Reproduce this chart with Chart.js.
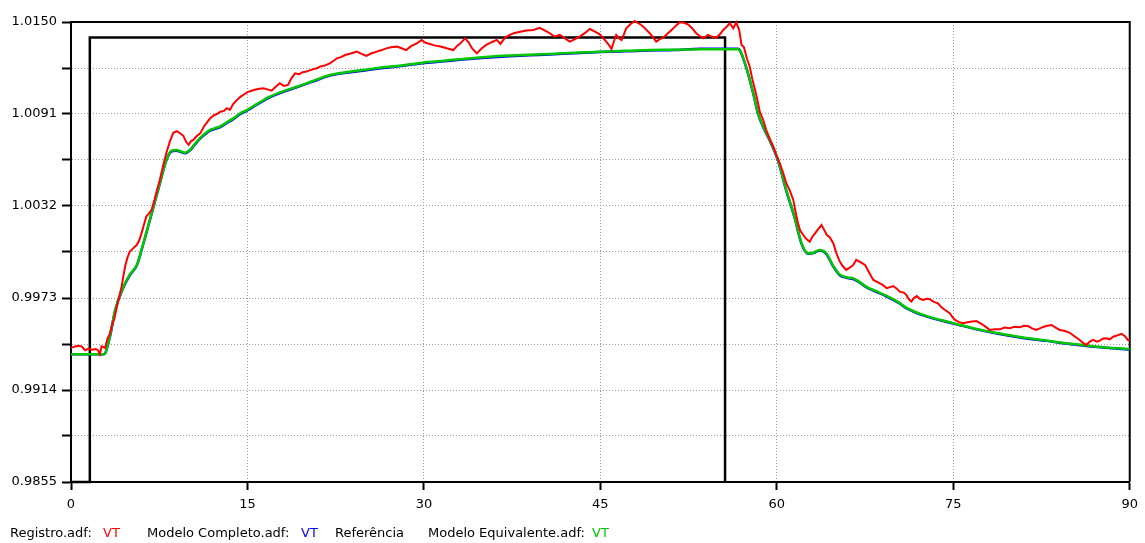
<!DOCTYPE html>
<html>
<head>
<meta charset="utf-8">
<script src="https://cdn.jsdelivr.net/npm/chart.js@4.4.1/dist/chart.umd.min.js"></script>
<style>
  html, body { margin: 0; padding: 0; background: #fff; }
  #wrap { position: relative; width: 1145px; height: 543px; }
  #legenda { position: absolute; left: 0; top: 525px; width: 1145px; height: 18px;
    font-family: "DejaVu Sans", sans-serif; font-size: 13px; line-height: 15px; color: #000; }
  #legenda span { position: absolute; top: 0; white-space: nowrap; }
</style>
</head>
<body>
<div id="wrap">
  <canvas id="grafico" width="1145" height="543"></canvas>
  <div id="legenda">
    <span style="left:10px">Registro.adf:</span>
    <span style="left:103px;color:#ff0000">VT</span>
    <span style="left:147px">Modelo Completo.adf:</span>
    <span style="left:301px;color:#0000ff">VT</span>
    <span style="left:335px">Referência</span>
    <span style="left:428px">Modelo Equivalente.adf:</span>
    <span style="left:592px;color:#00c800">VT</span>
  </div>
</div>
<script>
// eixos
const xMin = 0, xMax = 90, xStep = 15;
const yTicks = [0.9855, 0.98845, 0.9914, 0.99435, 0.9973, 1.00025, 1.0032, 1.00615, 1.0091, 1.01205, 1.0150];
const yTickLabels = ['0.9855', '', '0.9914', '', '0.9973', '', '1.0032', '', '1.0091', '', '1.0150'];

// Referência (degrau)
const refT = [0, 1.6, 1.6, 55.6, 55.6];
const refV = [0.9855, 0.9855, 1.0140, 1.0140, 0.9855];

// Registro.adf: VT (medição)
const regT = [0, 0.3, 0.6, 0.9, 1.2, 1.5, 1.8, 2.1, 2.3, 2.45, 2.6, 2.9, 3.1, 3.3, 3.5, 3.7, 3.9, 4.1, 4.3, 4.45,
  4.6, 4.8, 5.0, 5.3, 5.6, 5.8, 6.0, 6.2, 6.4, 6.6, 6.85, 7.1, 7.3, 7.55, 7.8, 8.1, 8.4, 8.7, 9.0, 9.3,
  9.55, 9.8, 10.0, 10.2, 10.4, 10.7, 11.0, 11.3, 11.55, 11.8, 12.1, 12.4, 12.7, 13.0, 13.25, 13.5, 13.8, 14.1, 14.4, 14.7,
  15.0, 15.3, 15.6, 15.9, 16.35, 16.7, 17.05, 17.4, 17.75, 18.1, 18.45, 18.75, 19.05, 19.4, 19.7, 20.0, 20.3, 20.6, 20.9, 21.2,
  21.6, 22.0, 22.3, 22.6, 22.95, 23.3, 23.7, 24.0, 24.3, 24.7, 25.1, 25.5, 26.0, 26.4, 26.8, 27.2, 27.7, 28.1, 28.5, 28.9,
  29.4, 29.8, 30.1, 30.5, 30.9, 31.3, 31.65, 32.0, 32.5, 32.8, 33.1, 33.5, 33.8, 34.1, 34.5, 34.9, 35.3, 35.8, 36.2, 36.5,
  36.9, 37.3, 37.7, 38.2, 38.7, 39.3, 39.85, 40.3, 40.7, 41.1, 41.55, 42.0, 42.4, 42.85, 43.25, 43.7, 44.1, 44.5, 44.95, 45.2,
  45.5, 45.75, 45.95, 46.15, 46.35, 46.6, 46.8, 47.0, 47.2, 47.55, 47.9, 48.3, 48.65, 48.9, 49.2, 49.5, 49.75, 50.05, 50.35, 50.7,
  51.05, 51.4, 51.75, 52.1, 52.45, 52.8, 53.15, 53.45, 53.75, 54.15, 54.5, 54.85, 55.15, 55.45, 55.75, 56.0, 56.3, 56.55, 56.8, 57.0,
  57.2, 57.45, 57.7, 57.9, 58.15, 58.35, 58.55, 58.85, 59.1, 59.4, 59.7, 59.95, 60.25, 60.55, 60.8, 61.1, 61.4, 61.6, 61.8, 62.0,
  62.25, 62.5, 62.8, 63.0, 63.25, 63.5, 63.8, 64.0, 64.25, 64.5, 64.8, 65.05, 65.35, 65.6, 65.9, 66.2, 66.5, 66.75, 67.1, 67.5,
  67.8, 68.2, 68.6, 69.0, 69.35, 69.9, 70.2, 70.45, 70.8, 71.0, 71.25, 71.45, 71.65, 71.9, 72.15, 72.45, 72.75, 73.0, 73.35, 73.7,
  74.0, 74.3, 74.7, 74.95, 75.15, 75.5, 75.85, 76.2, 76.6, 76.95, 77.25, 77.55, 77.85, 78.1, 78.5, 78.95, 79.35, 79.8, 80.2, 80.65,
  81.0, 81.35, 81.7, 82.05, 82.5, 82.9, 83.35, 83.7, 84.05, 84.45, 84.9, 85.3, 85.75, 86.05, 86.3, 86.6, 86.9, 87.2, 87.45, 87.75,
  88.0, 88.3, 88.6, 88.95, 89.3, 89.6, 89.85, 90.0];
const regV = [0.99410, 0.99418, 0.99423, 0.99420, 0.99395, 0.99405, 0.99398, 0.99403, 0.99395, 0.99370, 0.99420, 0.99410, 0.99470, 0.99500, 0.99560, 0.99600, 0.99675, 0.99740, 0.99803, 0.99870,
  0.99932, 0.99990, 1.00028, 1.00050, 1.00071, 1.00100, 1.00146, 1.00200, 1.00252, 1.00270, 1.00295, 1.00360, 1.00420, 1.00487, 1.00570, 1.00658, 1.00733, 1.00790, 1.00800, 1.00785,
  1.00770, 1.00730, 1.00712, 1.00735, 1.00744, 1.00770, 1.00787, 1.00830, 1.00855, 1.00880, 1.00900, 1.00910, 1.00925, 1.00930, 1.00947, 1.00936, 1.00975, 1.00999, 1.01020, 1.01035,
  1.01050, 1.01058, 1.01065, 1.01070, 1.01075, 1.01068, 1.01060, 1.01085, 1.01107, 1.01090, 1.01096, 1.01140, 1.01171, 1.01165, 1.01178, 1.01182, 1.01190, 1.01198, 1.01203, 1.01215,
  1.01222, 1.01235, 1.01250, 1.01267, 1.01275, 1.01288, 1.01296, 1.01303, 1.01310, 1.01295, 1.01282, 1.01298, 1.01310, 1.01320, 1.01331, 1.01338, 1.01342, 1.01332, 1.01320, 1.01345,
  1.01363, 1.01385, 1.01368, 1.01359, 1.01350, 1.01345, 1.01338, 1.01330, 1.01320, 1.01345, 1.01363, 1.01395, 1.01370, 1.01330, 1.01299, 1.01330, 1.01353, 1.01372, 1.01385, 1.01360,
  1.01400, 1.01417, 1.01430, 1.01438, 1.01445, 1.01449, 1.01463, 1.01445, 1.01428, 1.01406, 1.01417, 1.01395, 1.01374, 1.01390, 1.01406, 1.01430, 1.01455, 1.01440, 1.01421, 1.01400,
  1.01374, 1.01350, 1.01327, 1.01375, 1.01417, 1.01395, 1.01385, 1.01420, 1.01460, 1.01485, 1.01506, 1.01490, 1.01470, 1.01450, 1.01428, 1.01400, 1.01374, 1.01390, 1.01399, 1.01425,
  1.01449, 1.01475, 1.01498, 1.01495, 1.01485, 1.01460, 1.01428, 1.01410, 1.01395, 1.01417, 1.01405, 1.01399, 1.01420, 1.01449, 1.01470, 1.01492, 1.01460, 1.01498, 1.01450, 1.01353,
  1.01340, 1.01267, 1.01213, 1.01140, 1.01064, 1.01000, 1.00925, 1.00870, 1.00807, 1.00750, 1.00700, 1.00650, 1.00594, 1.00530, 1.00466, 1.00420, 1.00359, 1.00280, 1.00209, 1.00160,
  1.00134, 1.00110, 1.00091, 1.00120, 1.00145, 1.00170, 1.00198, 1.00170, 1.00134, 1.00120, 1.00081, 1.00020, 0.99964, 0.99935, 0.99910, 0.99925, 0.99942, 0.99974, 0.99960, 0.99942,
  0.99900, 0.99846, 0.99830, 0.99814, 0.99793, 0.99807, 0.99790, 0.99771, 0.99765, 0.99750, 0.99720, 0.99707, 0.99730, 0.99743, 0.99725, 0.99717, 0.99725, 0.99722, 0.99705, 0.99696,
  0.99670, 0.99653, 0.99632, 0.99605, 0.99589, 0.99575, 0.99568, 0.99575, 0.99580, 0.99583, 0.99570, 0.99557, 0.99540, 0.99525, 0.99530, 0.99529, 0.99540, 0.99536, 0.99545, 0.99542,
  0.99552, 0.99550, 0.99535, 0.99525, 0.99540, 0.99550, 0.99557, 0.99540, 0.99525, 0.99520, 0.99507, 0.99485, 0.99461, 0.99440, 0.99429, 0.99450, 0.99461, 0.99450, 0.99457, 0.99470,
  0.99472, 0.99465, 0.99482, 0.99490, 0.99500, 0.99485, 0.99461, 0.99460];

// Modelo Equivalente.adf: VT
const eqT = [0, 2.8, 3.3, 3.75, 4.45, 5.0, 5.6, 6.15, 6.85, 7.55, 8.1, 8.55, 8.95, 9.3, 9.7, 10.1, 10.5, 10.95, 11.4, 11.8,
  12.2, 12.65, 13.2, 13.8, 14.4, 14.95, 15.5, 16.2, 16.9, 18.0, 19.2, 20.5, 22.0, 23.4, 24.85, 26.2, 27.7, 29.9, 31.5, 33.3,
  35.2, 37.2, 39.0, 40.7, 42.8, 45.0, 47.0, 49.2, 51.3, 53.5, 55.5, 56.7, 57.3, 58.0, 58.4, 58.9, 59.4, 60.1, 60.8, 61.5,
  62.1, 62.65, 63.1, 63.65, 64.2, 64.8, 65.35, 66.0, 66.5, 67.0, 67.6, 68.4, 69.3, 70.4, 71.0, 72.5, 75.0, 76.8, 78.7, 80.8,
  82.9, 85.0, 87.2, 90.0];
const eqV = [0.99370, 0.99370, 0.99480, 0.99653, 0.99801, 0.99880, 0.99942, 1.00081, 1.00273, 1.00466, 1.00615, 1.00675, 1.00679, 1.00672, 1.00662, 1.00679, 1.00715, 1.00754, 1.00785, 1.00807,
  1.00818, 1.00829, 1.00855, 1.00882, 1.00915, 1.00935, 1.00960, 1.00992, 1.01021, 1.01055, 1.01085, 1.01120, 1.01160, 1.01178, 1.01192, 1.01206, 1.01218, 1.01239, 1.01250, 1.01263,
  1.01275, 1.01285, 1.01290, 1.01295, 1.01303, 1.01310, 1.01315, 1.01320, 1.01322, 1.01325, 1.01325, 1.01325, 1.01235, 1.01043, 1.00915, 1.00820, 1.00744, 1.00615, 1.00423, 1.00252,
  1.00081, 1.00017, 1.00020, 1.00038, 1.00017, 0.99935, 0.99880, 0.99862, 0.99856, 0.99835, 0.99803, 0.99775, 0.99745, 0.99700, 0.99668, 0.99620, 0.99569, 0.99535, 0.99505, 0.99478,
  0.99457, 0.99436, 0.99418, 0.99402];

// Modelo Completo.adf: VT (quase igual ao equivalente)
const compT = [0, 2.8, 3.3, 3.75, 4.45, 5.0, 5.6, 6.15, 6.85, 7.55, 8.1, 8.55, 8.95, 9.3, 9.7, 10.1, 10.5, 10.95, 11.4, 11.8,
  12.2, 12.65, 13.2, 13.8, 14.4, 14.95, 15.5, 16.2, 16.9, 18.0, 19.2, 20.5, 22.0, 23.4, 24.85, 26.2, 27.7, 29.9, 31.5, 33.3,
  35.2, 37.2, 39.0, 40.7, 42.8, 45.0, 47.0, 49.2, 51.3, 53.5, 55.5, 56.7, 57.3, 58.0, 58.4, 58.9, 59.4, 60.1, 60.8, 61.5,
  62.1, 62.65, 63.1, 63.65, 64.2, 64.8, 65.35, 66.0, 66.5, 67.0, 67.6, 68.4, 69.3, 70.4, 71.0, 72.5, 75.0, 76.8, 78.7, 80.8,
  82.9, 85.0, 87.2, 90.0];
const compV = [0.99370, 0.99370, 0.99478, 0.99650, 0.99798, 0.99876, 0.99940, 1.00078, 1.00270, 1.00463, 1.00612, 1.00670, 1.00675, 1.00668, 1.00658, 1.00675, 1.00711, 1.00750, 1.00780, 1.00802,
  1.00813, 1.00824, 1.00850, 1.00877, 1.00910, 1.00931, 1.00956, 1.00988, 1.01017, 1.01051, 1.01081, 1.01116, 1.01156, 1.01174, 1.01188, 1.01202, 1.01214, 1.01235, 1.01246, 1.01259,
  1.01271, 1.01281, 1.01287, 1.01292, 1.01300, 1.01307, 1.01312, 1.01317, 1.01320, 1.01328, 1.01328, 1.01328, 1.01232, 1.01040, 1.00912, 1.00816, 1.00740, 1.00611, 1.00419, 1.00248,
  1.00077, 1.00014, 1.00018, 1.00035, 1.00013, 0.99931, 0.99876, 0.99858, 0.99852, 0.99831, 0.99799, 0.99771, 0.99741, 0.99696, 0.99665, 0.99617, 0.99566, 0.99532, 0.99502, 0.99475,
  0.99455, 0.99434, 0.99416, 0.99400];

const pts = (t, v) => t.map((x, i) => ({ x, y: v[i] }));

// moldura superior e direita (caixa fechada)
const moldura = {
  id: 'moldura',
  beforeDatasetsDraw(chart) {
    const { ctx, chartArea: a } = chart;
    ctx.save();
    ctx.strokeStyle = '#000';
    ctx.lineWidth = 2;
    ctx.beginPath();
    ctx.moveTo(a.left, a.top);
    ctx.lineTo(a.right, a.top);
    ctx.lineTo(a.right, a.bottom);
    ctx.stroke();
    ctx.restore();
  }
};

const fonte = { family: '"DejaVu Sans", sans-serif', size: 13 };

// order menor = desenhado por cima
new Chart(document.getElementById('grafico'), {
  type: 'line',
  data: {
    datasets: [
      { label: 'Referência', data: pts(refT, refV), borderColor: '#000000', borderWidth: 2.5, pointRadius: 0, tension: 0, clip: 4, order: 4 },
      { label: 'Modelo Completo.adf: VT', data: pts(compT, compV), borderColor: '#0000ff', borderWidth: 2.5, pointRadius: 0, cubicInterpolationMode: 'monotone', order: 3 },
      { label: 'Modelo Equivalente.adf: VT', data: pts(eqT, eqV), borderColor: '#00c800', borderWidth: 2.5, pointRadius: 0, cubicInterpolationMode: 'monotone', order: 2 },
      { label: 'Registro.adf: VT', data: pts(regT, regV), borderColor: '#ff0000', borderWidth: 2, pointRadius: 0, tension: 0, clip: 2, order: 1 }
    ]
  },
  options: {
    responsive: false,
    animation: false,
    devicePixelRatio: 1,
    layout: { padding: { top: 22, right: 15, bottom: 0, left: 0 } },
    plugins: { legend: { display: false }, tooltip: { enabled: false } },
    scales: {
      x: {
        type: 'linear', min: xMin, max: xMax,
        ticks: { stepSize: xStep, color: '#000', font: fonte, padding: 7, maxRotation: 0 },
        grid: { color: '#9a9a9a', lineWidth: 1, tickColor: '#000', tickWidth: 2, tickLength: 8 },
        border: { color: '#000', width: 2, dash: [1, 2] },
        afterFit(s) { s.height = 61; }
      },
      y: {
        type: 'linear', min: yTicks[0], max: yTicks[yTicks.length - 1],
        afterBuildTicks(s) { s.ticks = yTicks.map(v => ({ value: v })); },
        ticks: { color: '#000', font: fonte, padding: 5, callback: (v, i) => yTickLabels[i] },
        grid: { color: '#9a9a9a', lineWidth: 1, tickColor: '#000', tickWidth: 2, tickLength: 9 },
        border: { color: '#000', width: 2, dash: [1, 2] },
        afterFit(s) { s.width = 71; }
      }
    }
  },
  plugins: [moldura]
});
</script>
</body>
</html>
